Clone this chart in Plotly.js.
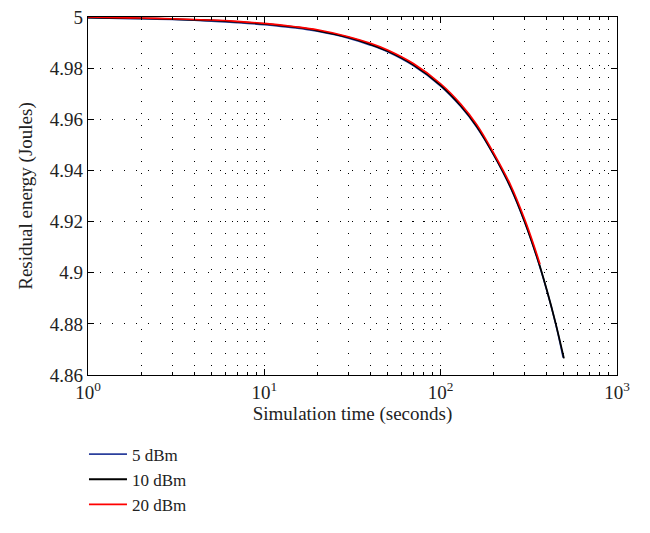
<!DOCTYPE html>
<html>
<head>
<meta charset="utf-8">
<script src="https://cdn.plot.ly/plotly-3.0.1.min.js"></script>
<style>html,body{margin:0;padding:0;background:#fff;}#chart{width:650px;height:533px;}</style>
</head>
<body>
<div id="chart"></div>
<script>
// Simulation time (seconds)
const timeBlue  = [1, 1.5, 2, 3, 4, 5, 7, 10, 15, 20, 30, 40, 50, 70, 100, 130, 160, 200, 250, 300, 350, 400, 450, 495];
const timeBlack = [1, 1.5, 2, 3, 4, 5, 7, 10, 15, 20, 30, 40, 50, 70, 100, 130, 160, 200, 250, 300, 350, 400, 450, 500];
const timeRed   = [1, 1.5, 2, 3, 4, 5, 7, 10, 15, 20, 30, 40, 50, 70, 100, 130, 160, 200, 250, 300, 340, 366];
// Residual energy (Joules)
const energyBlue  = [4.9997, 4.9994, 4.9993, 4.9990, 4.9987, 4.9984, 4.9978, 4.9970, 4.9957, 4.9944, 4.9917, 4.9890, 4.9864, 4.9810, 4.9730, 4.9650, 4.9570, 4.9460, 4.9330, 4.9196, 4.9063, 4.8930, 4.8797, 4.8668];
const energyBlack = [4.9998, 4.9996, 4.9995, 4.9992, 4.9989, 4.9987, 4.9981, 4.9973, 4.9960, 4.9947, 4.9920, 4.9893, 4.9867, 4.9813, 4.9733, 4.9653, 4.9573, 4.9462, 4.9333, 4.9199, 4.9066, 4.8932, 4.8799, 4.8665];
const energyRed   = [5.0000, 4.9997, 4.9996, 4.9993, 4.9990, 4.9988, 4.9983, 4.9975, 4.9962, 4.9950, 4.9923, 4.9897, 4.9871, 4.9818, 4.9739, 4.9660, 4.9580, 4.9468, 4.9341, 4.9208, 4.9102, 4.9033];
const seriesNames = ["5 dBm", "10 dBm", "20 dBm"];
const xTickVals = [1, 10, 100, 1000];
const xTickText = ["10<sup>0</sup>", "10<sup>1</sup>", "10<sup>2</sup>", "10<sup>3</sup>"];
const xMinorVals = [2,3,4,5,6,7,8,9,20,30,40,50,60,70,80,90,200,300,400,500,600,700,800,900];
const yTickVals = [4.86, 4.88, 4.90, 4.92, 4.94, 4.96, 4.98, 5.00];
const yTickText = ["4.86", "4.88", "4.9", "4.92", "4.94", "4.96", "4.98", "5"];

const font = {family: "Liberation Serif, Times New Roman, serif", size: 19, color: "#222"};
const legendFont = {family: "Liberation Serif, Times New Roman, serif", size: 17, color: "#222"};
const dotted = "1px,11px";

const traces = [
  {x: timeBlue, y: energyBlue, name: seriesNames[0], mode: "lines", line: {color: "#2b3f9c", width: 1.6, shape: "spline"}},
  {x: timeBlack, y: energyBlack, name: seriesNames[1], mode: "lines", line: {color: "#000000", width: 1.8, shape: "spline"}},
  {x: timeRed, y: energyRed, name: seriesNames[2], mode: "lines", line: {color: "#ff0000", width: 1.6, shape: "spline"}}
];

const layout = {
  width: 650, height: 533,
  margin: {l: 88, r: 33, t: 17, b: 158, autoexpand: false},
  paper_bgcolor: "#fff", plot_bgcolor: "#fff",
  font: font,
  showlegend: true,
  legend: {x: -0.0076, xanchor: "left", y: -0.172, yanchor: "top", font: legendFont, bgcolor: "rgba(0,0,0,0)", tracegroupgap: 0, itemwidth: 38},
  xaxis: {
    type: "log", range: [0, 3], automargin: false,
    tickmode: "array", tickvals: xTickVals, ticktext: xTickText,
    ticks: "inside", ticklen: 6, tickcolor: "#000", mirror: "allticks",
    showline: true, linecolor: "#000", linewidth: 1.2,
    showgrid: true, gridcolor: "#000", gridwidth: 1, griddash: dotted,
    minor: {tickmode: "array", tickvals: xMinorVals, ticks: "inside", ticklen: 3, tickcolor: "#000", showgrid: true, gridcolor: "#000", gridwidth: 1, griddash: dotted},
    zeroline: false,
    tickfont: font,
    title: {text: "Simulation time (seconds)", font: font, standoff: 2}
  },
  yaxis: {
    range: [4.86, 5], automargin: false,
    tickmode: "array", tickvals: yTickVals, ticktext: yTickText,
    ticks: "inside", ticklen: 6, tickcolor: "#000", mirror: "allticks",
    showline: true, linecolor: "#000", linewidth: 1.2,
    showgrid: true, gridcolor: "#000", gridwidth: 1, griddash: dotted,
    zeroline: false,
    tickfont: font,
    title: {text: "Residual energy (Joules)", font: font, standoff: 12}
  }
};

Plotly.newPlot("chart", traces, layout, {displayModeBar: false, staticPlot: true});
</script>
</body>
</html>
